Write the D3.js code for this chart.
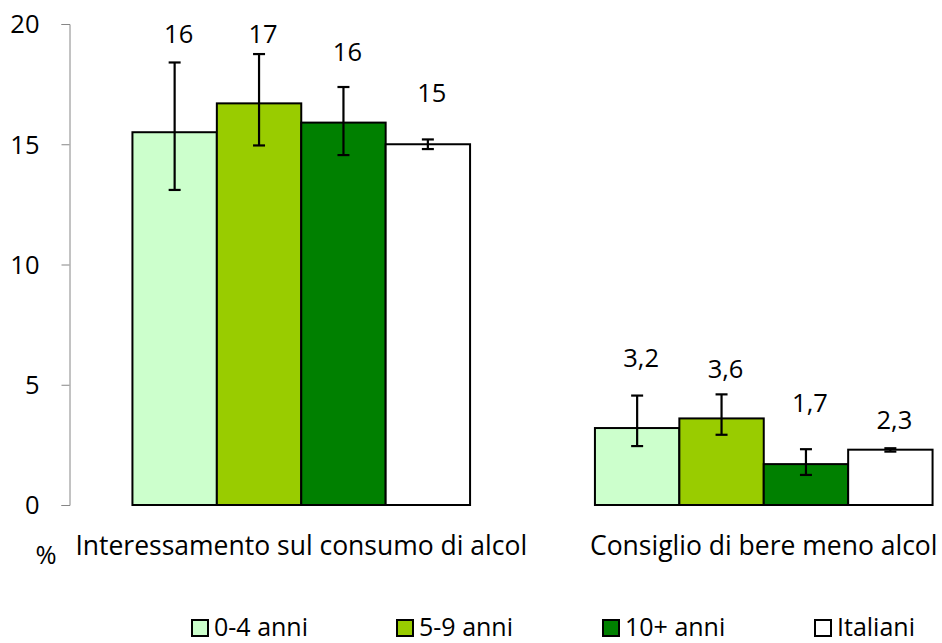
<!DOCTYPE html>
<html><head><meta charset="utf-8">
<script src="https://cdn.jsdelivr.net/npm/d3@7"></script>
<style>
html,body{margin:0;padding:0;background:#fff;}
svg{display:block;font-family:"Open Sans",Lato,sans-serif;}
</style></head>
<body><svg id="c" width="942" height="643"></svg>
<script>
// ---- data ----
const categories = ["Interessamento sul consumo di alcol", "Consiglio di bere meno alcol"];
const seriesNames = ["0-4 anni", "5-9 anni", "10+ anni", "Italiani"];
const seriesColors = ["#CCFFCC", "#99CC00", "#008000", "#FFFFFF"];
const values = [
  [15.5, 16.7, 15.9, 15.0],
  [3.2, 3.6, 1.7, 2.3]
];
const errLow = [
  [13.1, 14.95, 14.55, 14.8],
  [2.45, 2.92, 1.25, 2.22]
];
const errHigh = [
  [18.4, 18.75, 17.38, 15.2],
  [4.55, 4.6, 2.32, 2.36]
];
const valueLabels = [
  ["16", "17", "16", "15"],
  ["3,2", "3,6", "1,7", "2,3"]
];
// label baselines (in data units) as placed in the original
const labelAt = [
  [19.2, 19.2, 18.45, 16.75],
  [5.75, 5.3, 3.85, 3.15]
];
const yTicks = [0, 5, 10, 15, 20];

// ---- layout ----
const svg = d3.select("#c");
const numSize = 25.5, catSize = 26.5, legSize = 25;
const y = d3.scaleLinear().domain([0, 20]).range([505, 24]);
const x0 = d3.scaleBand().domain(categories).range([70, 995]).paddingInner(0.27).paddingOuter(0.135);
const x1 = d3.scaleBand().domain(seriesNames).range([0, x0.bandwidth()]);

// axis
const axis = d3.axisLeft(y).tickValues(yTicks).tickSize(8).tickPadding(22);
const gA = svg.append("g").attr("transform", "translate(69.5,0)").call(axis);
gA.select(".domain").attr("stroke", "#868686").attr("stroke-width", 1);
gA.selectAll(".tick line").attr("stroke", "#868686");
gA.selectAll(".tick text").attr("font-family", "Open Sans").attr("font-size", numSize).attr("fill", "#000").attr("dy", "0.35em");

// bars
const groups = svg.append("g").selectAll("g").data(categories).join("g")
  .attr("transform", d => `translate(${x0(d)},0)`);

groups.each(function(cat, ci) {
  const g = d3.select(this);
  seriesNames.forEach((s, si) => {
    const bx = x1(s);
    const cx = bx + x1.bandwidth() / 2;
    g.append("rect")
      .attr("x", bx).attr("width", x1.bandwidth())
      .attr("y", y(values[ci][si])).attr("height", y(0) - y(values[ci][si]))
      .attr("fill", seriesColors[si]).attr("stroke", "#000").attr("stroke-width", 2);
    // error bar
    const eg = g.append("g").attr("stroke", "#000").attr("stroke-width", 2.2);
    eg.append("line").attr("x1", cx).attr("x2", cx).attr("y1", y(errLow[ci][si])).attr("y2", y(errHigh[ci][si]));
    eg.append("line").attr("x1", cx - 6).attr("x2", cx + 6).attr("y1", y(errLow[ci][si])).attr("y2", y(errLow[ci][si]));
    eg.append("line").attr("x1", cx - 6).attr("x2", cx + 6).attr("y1", y(errHigh[ci][si])).attr("y2", y(errHigh[ci][si]));
    g.append("text").attr("x", cx + 4).attr("y", y(labelAt[ci][si]))
      .attr("text-anchor", "middle").attr("font-size", numSize).text(valueLabels[ci][si]);
  });
});

// category labels
svg.append("g").selectAll("text").data(categories).join("text")
  .attr("x", d => x0(d) + x0.bandwidth() / 2)
  .attr("y", 555).attr("text-anchor", "middle").attr("font-size", catSize).text(d => d);

svg.append("text").attr("x", 46).attr("y", 564).attr("text-anchor", "middle").attr("font-size", numSize).text("%");

// legend
const legendX = [191, 396, 602, 814];
const lg = svg.append("g").selectAll("g").data(seriesNames).join("g")
  .attr("transform", (d, i) => `translate(${legendX[i]},619)`);
lg.append("rect").attr("x", 1).attr("y", 1).attr("width", 16).attr("height", 16)
  .attr("fill", (d, i) => seriesColors[i]).attr("stroke", "#000").attr("stroke-width", 2);
lg.append("text").attr("x", 23).attr("y", 16.5).attr("font-size", legSize).text(d => d);
</script>
</body></html>
